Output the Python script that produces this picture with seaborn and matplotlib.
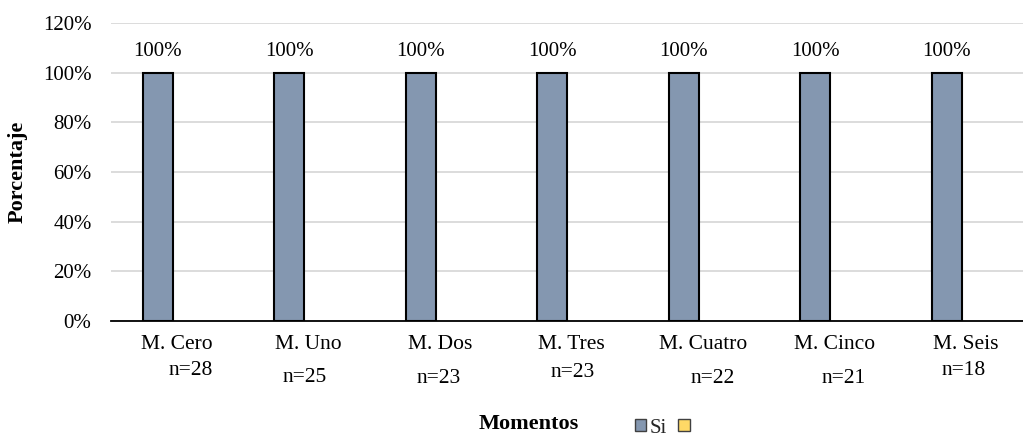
import numpy as np
import pandas as pd
import seaborn as sns
import matplotlib.pyplot as plt
from matplotlib.patches import Patch

# Data
momentos = ["M. Cero", "M. Uno", "M. Dos", "M. Tres", "M. Cuatro", "M. Cinco", "M. Seis"]
n_sujetos = [28, 25, 23, 23, 22, 21, 18]
pct_si = [100, 100, 100, 100, 100, 100, 100]
pct_no = [0, 0, 0, 0, 0, 0, 0]
series = ["Si", "No"]
y_ticks = [0, 20, 40, 60, 80, 100, 120]

# Layout for the "n=" captions under each category (pixels, relative to the tick)
n_dx = [14, -4, -1, 1, 10, 9, -2]
n_dy = [-54, -61, -62, -56, -62, -62, -54]

df = pd.DataFrame({
    "Momento": momentos * 2,
    "Serie": [series[0]] * len(momentos) + [series[1]] * len(momentos),
    "Porcentaje": pct_si + pct_no,
})

sns.set_theme(style="white")
plt.rcParams["font.family"] = ["Liberation Serif", "DejaVu Serif"]

W, H = 1023, 440
fig = plt.figure(figsize=(W / 100, H / 100), dpi=100)
ax_left, ax_bottom, ax_w, ax_h = 111, 321, 920.5, 298
ax = fig.add_axes([ax_left / W, 1 - ax_bottom / H, ax_w / W, ax_h / H])

blue, yellow = "#8497B0", "#FFD966"
sns.barplot(data=df, x="Momento", y="Porcentaje", hue="Serie",
            hue_order=series, order=momentos, palette=[blue, yellow],
            saturation=1, width=0.576, gap=0.21, edgecolor="black",
            linewidth=1.5, errorbar=None, legend=False, ax=ax)

# Hide the zero-height outlines of the second series
for patch in ax.containers[1]:
    patch.set_linewidth(0)

ax.set_xlim(-0.5, len(momentos) - 0.5)
ax.set_ylim(0, 120)
ax.set_yticks(y_ticks)
ax.set_yticklabels([f"{v}%" for v in y_ticks], fontsize=15)
ax.yaxis.grid(True, color="#D9D9D9", linewidth=1.3)
ax.set_axisbelow(True)
for side in ["left", "right", "top"]:
    ax.spines[side].set_visible(False)
ax.spines["bottom"].set_color("black")
ax.spines["bottom"].set_linewidth(1.3)
ax.tick_params(axis="y", length=0, pad=14, colors="black")
ax.tick_params(axis="x", length=0, pad=10, colors="black", labelsize=15.5)
ax.set_xticks(range(len(momentos)))
ax.set_xticklabels(momentos)

# Sample sizes under each moment
for i, n in enumerate(n_sujetos):
    ax.annotate(f"n={n}", xy=(i, 0), xycoords=("data", "axes fraction"),
                xytext=(n_dx[i], n_dy[i]), textcoords="offset pixels",
                ha="center", va="baseline", fontsize=15.5, color="black",
                annotation_clip=False)

# Value labels on the "Si" bars
ax.bar_label(ax.containers[0], labels=[f"{v}%" for v in pct_si],
             padding=8.5, fontsize=15, color="black")

ax.set_ylabel("Porcentaje", fontsize=16, fontweight="bold", color="black")
ax.yaxis.set_label_coords((28 - ax_left) / ax_w, 0.5)
ax.set_xlabel("Momentos", fontsize=16, fontweight="bold", color="black")
ax.xaxis.set_label_coords((529 - ax_left) / ax_w, (ax_bottom - 414) / ax_h)

handles = [Patch(facecolor=blue, edgecolor="#404040", linewidth=1.0),
           Patch(facecolor=yellow, edgecolor="#404040", linewidth=1.0)]
fig.legend(handles, ["Si", ""], ncol=2, frameon=False, fontsize=15,
           loc="center left", bbox_to_anchor=(635 / W, 1 - 428 / H),
           borderpad=0, borderaxespad=0, handlelength=0.55, handleheight=0.55,
           handletextpad=0.15, columnspacing=0.55)

fig.savefig("out.png", dpi=100)
